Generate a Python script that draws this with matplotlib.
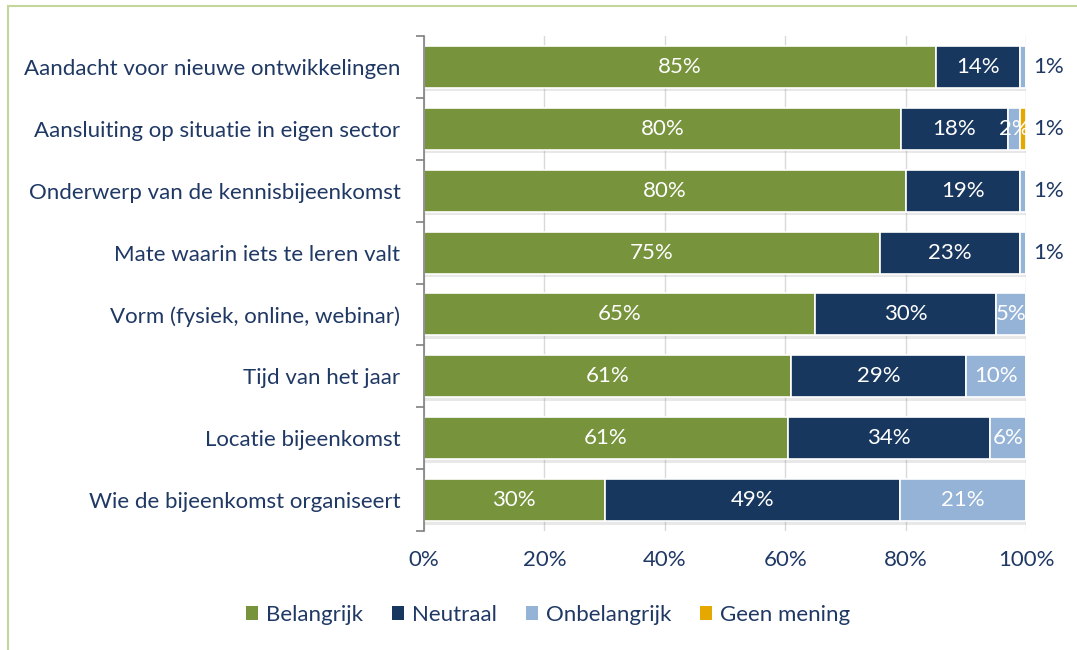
import matplotlib
matplotlib.use("Agg")
import matplotlib.pyplot as plt
import matplotlib.patheffects as pe
import numpy as np

categories = [
    "Aandacht voor nieuwe ontwikkelingen",
    "Aansluiting op situatie in eigen sector",
    "Onderwerp van de kennisbijeenkomst",
    "Mate waarin iets te leren valt",
    "Vorm (fysiek, online, webinar)",
    "Tijd van het jaar",
    "Locatie bijeenkomst",
    "Wie de bijeenkomst organiseert",
]
series_names = ["Belangrijk", "Neutraal", "Onbelangrijk", "Geen mening"]
belangrijk = [85, 80, 80, 75, 65, 61, 61, 30]
neutraal = [14, 18, 19, 23, 30, 29, 34, 49]
onbelangrijk = [1, 2, 1, 1, 5, 10, 6, 21]
geen_mening = [0, 1, 0, 0, 0, 0, 0, 0]
x_ticks = [0, 20, 40, 60, 80, 100]
x_tick_labels = ["0%", "20%", "40%", "60%", "80%", "100%"]

colors = ["#77933C", "#17375E", "#95B3D7", "#E5A800"]
text_color = "#1F3864"
plt.rcParams['font.family'] = ['Lato', 'DejaVu Sans']
FS = 16

fig = plt.figure(figsize=(10.77, 6.5), dpi=100)
W, H = 1077, 650
ax = fig.add_axes([424 / W, 1 - 531 / H, 602 / W, 495 / H])

data = np.array([belangrijk, neutraal, onbelangrijk, geen_mening], dtype=float)
totals = data.sum(axis=0)
shares = data / totals * 100
y = np.arange(len(categories))
left = np.zeros(len(categories))
shadow = [pe.SimplePatchShadow(offset=(0.5, -2.5), alpha=0.18, shadow_rgbFace="#808080"), pe.Normal()]
for i, name in enumerate(series_names):
    bars = ax.barh(y, shares[i], left=left, height=0.68, color=colors[i],
                   edgecolor="white", linewidth=1.2, label=name, zorder=3)
    for b in bars:
        b.set_path_effects(shadow)
    for j in range(len(categories)):
        v = data[i, j]
        if v <= 0:
            continue
        if v < 1.5:
            ax.text(103.7, y[j], f"{v:.0f}%", ha="center", va="center",
                    color=text_color, fontsize=FS, zorder=5, clip_on=False)
        else:
            ax.text(left[j] + shares[i, j] / 2, y[j], f"{v:.0f}%", ha="center",
                    va="center", color="white", fontsize=FS, zorder=5)
    left += shares[i]

ax.set_xlim(0, 100)
ax.set_ylim(len(categories) - 0.5, -0.5)
ax.set_xticks(x_ticks)
ax.set_xticklabels(x_tick_labels)
ax.set_yticks(y)
ax.set_yticklabels(categories)
ax.set_yticks(np.arange(-0.5, len(categories)), minor=True)
ax.tick_params(axis="y", which="major", length=0, pad=17, labelsize=FS, labelcolor=text_color)
ax.tick_params(axis="y", which="minor", length=6, width=1.2, color="#808080", direction="out")
ax.tick_params(axis="x", length=0, pad=14, labelsize=FS, labelcolor=text_color)
ax.grid(axis="x", color="#D9D9D9", linewidth=1.0, zorder=0)
for s in ["top", "right", "bottom"]:
    ax.spines[s].set_visible(False)
ax.spines["left"].set_color("#808080")
ax.spines["left"].set_linewidth(1.2)
ax.spines["left"].set_zorder(4)

handles, labels = ax.get_legend_handles_labels()
leg = fig.legend(handles, labels, loc="center", bbox_to_anchor=(548 / W, 1 - 615 / H),
                 ncol=4, frameon=False, fontsize=FS, handlelength=0.55, handleheight=0.55,
                 handletextpad=0.35, columnspacing=1.3, labelcolor=text_color)
for h in leg.legend_handles:
    h.set_path_effects([])
    h.set_linewidth(0)

# outer chart border (light green), partly cropped
fig.add_artist(plt.Line2D([8 / W, 1], [1 - 6 / H, 1 - 6 / H], color="#C3D69B", linewidth=1.5, transform=fig.transFigure))
fig.add_artist(plt.Line2D([8 / W, 8 / W], [0, 1 - 6 / H], color="#C3D69B", linewidth=1.5, transform=fig.transFigure))

fig.savefig("out.png", dpi=100)
